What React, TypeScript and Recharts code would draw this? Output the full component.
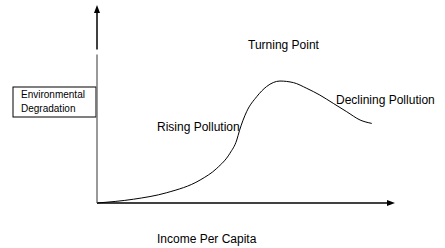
import { LineChart, Line, XAxis, YAxis, ReferenceLine, ReferenceDot } from "recharts";

// income (0-100) vs degradation (0-100)
const income = [0, 12.2, 23.4, 34.6, 40.2, 44.6, 46.9, 47.8, 50.2, 53.6, 56.9, 61.4, 65.9, 70.4, 74.8, 79.3, 83.8, 88.3, 92.2];
const degradation = [0, 1.9, 5.2, 11.6, 17.5, 25.1, 31.8, 36.5, 46.1, 53.7, 58.8, 61.6, 60.8, 57.9, 54.5, 50.3, 46.1, 41.9, 40.2];

const yAxisLabel = ["Environmental", "Degradation"];
const xAxisLabel = "Income Per Capita";
const phases = ["Rising Pollution", "Turning Point", "Declining Pollution"];

const data = income.map((x, i) => ({ x, y: degradation[i] }));

const FONT = "'Liberation Sans', Arial, sans-serif";

const UpArrow = (props: any) => {
  const { cx, cy } = props;
  return <path d={`M${cx},${cy} L${cx - 3},${cy + 8} L${cx + 3},${cy + 8} Z`} fill="#000" />;
};

const RightArrow = (props: any) => {
  const { cx, cy } = props;
  return <path d={`M${cx},${cy} L${cx - 8},${cy - 3} L${cx - 8},${cy + 3} Z`} fill="#000" />;
};

export default function App() {
  return (
    <div style={{ position: "absolute", left: 0, top: 0, width: 445, height: 248, background: "#fff" }}>
      <LineChart
        width={445}
        height={248}
        data={data}
        margin={{ top: 5, right: 50, left: 97, bottom: 45 }}
      >
        <XAxis type="number" dataKey="x" domain={[0, 100]} hide />
        <YAxis type="number" domain={[0, 100]} hide />

        {/* axes drawn by hand so the y axis can have its little break */}
        <ReferenceLine segment={[{ x: 0, y: 0 }, { x: 98, y: 0 }]} stroke="#000" strokeWidth={1.5} ifOverflow="visible" />
        <ReferenceLine segment={[{ x: 0, y: 0 }, { x: 0, y: 75 }]} stroke="#777" strokeWidth={1.5} ifOverflow="visible" />
        <ReferenceLine segment={[{ x: 0, y: 77.5 }, { x: 0, y: 97 }]} stroke="#000" strokeWidth={1.5} ifOverflow="visible" />
        <ReferenceDot x={0} y={100} r={0} shape={UpArrow} ifOverflow="visible" />
        <ReferenceDot x={100} y={0} r={0} shape={RightArrow} ifOverflow="visible" />

        <Line
          type="monotone"
          dataKey="y"
          stroke="#000"
          strokeWidth={1}
          dot={false}
          isAnimationActive={false}
        />

        <rect x={13} y={87} width={83} height={30} fill="#fff" stroke="#000" strokeWidth={1} />
        <text x={21} y={97.5} fontSize={10} fontFamily={FONT} fill="#000">{yAxisLabel[0]}</text>
        <text x={21} y={111.5} fontSize={10} fontFamily={FONT} fill="#000">{yAxisLabel[1]}</text>

        <text x={157} y={131} fontSize={12} fontFamily={FONT} fill="#000">{phases[0]}</text>
        <text x={248} y={48.5} fontSize={12} fontFamily={FONT} fill="#000">{phases[1]}</text>
        <text x={336} y={103.5} fontSize={12} fontFamily={FONT} fill="#000">{phases[2]}</text>
        <text x={157} y={242.5} fontSize={12} fontFamily={FONT} fill="#000">{xAxisLabel}</text>
      </LineChart>
    </div>
  );
}
